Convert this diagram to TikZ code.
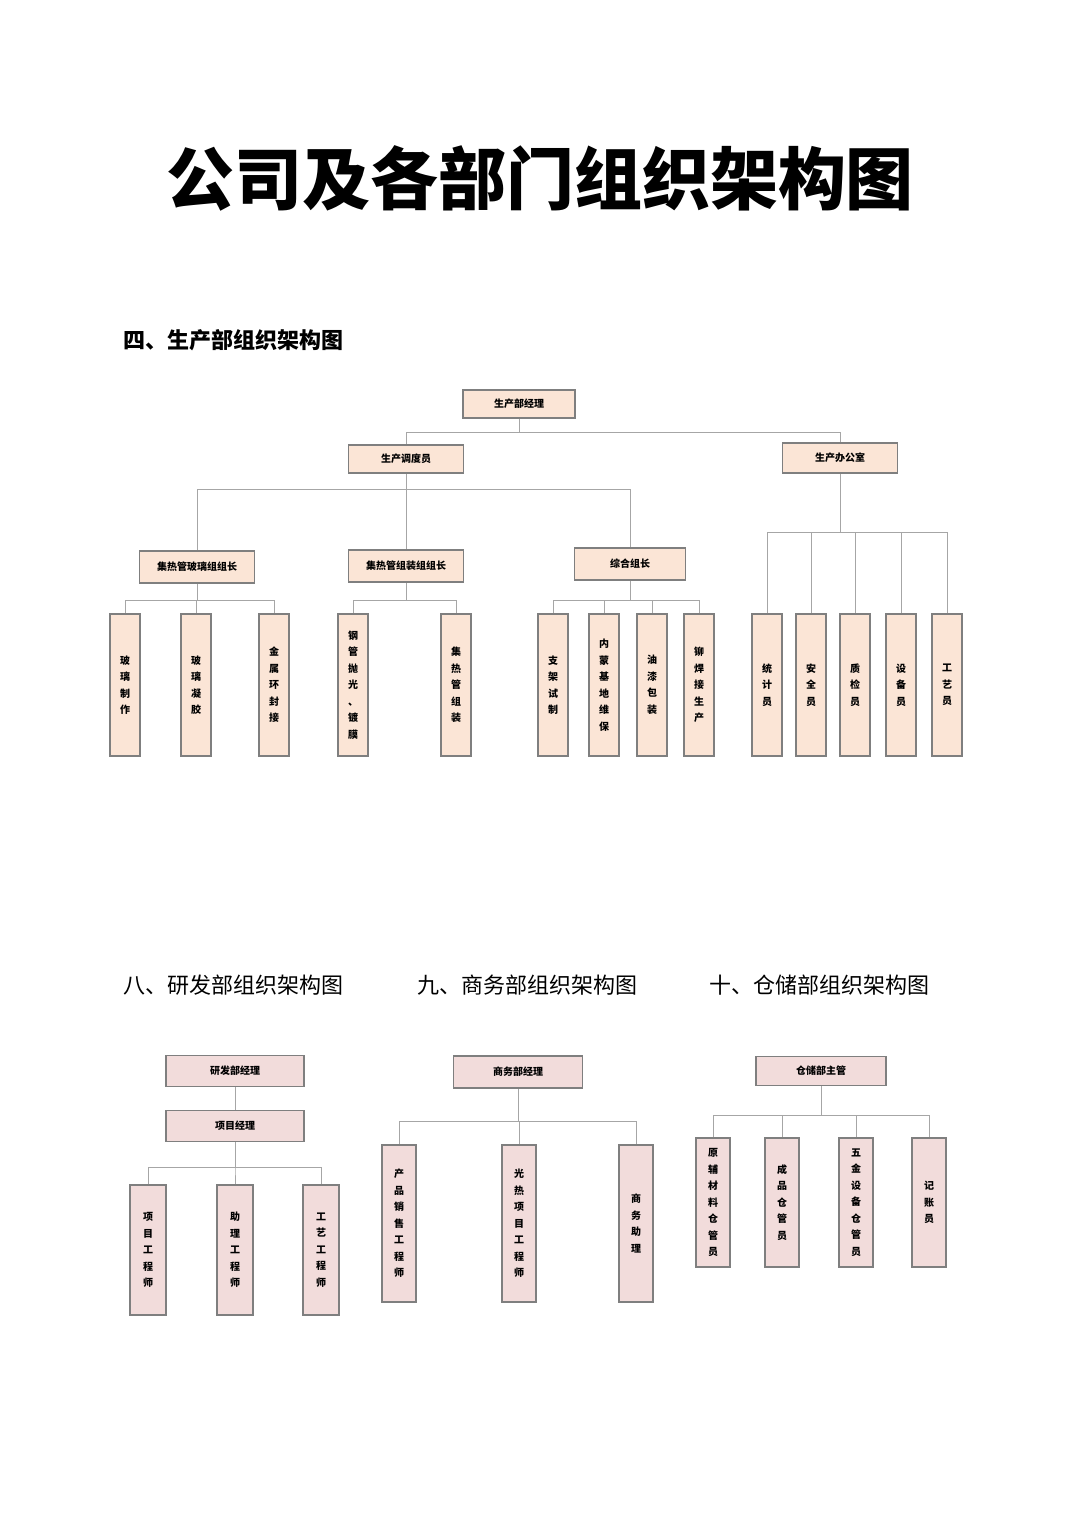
\documentclass[tikz,border=0pt]{standalone}
\usepackage{fontspec}
\setmainfont{Noto Sans CJK SC}
\newfontfamily\cjk{Noto Sans CJK SC}
\definecolor{peach}{HTML}{FBE5D6}
\definecolor{pinkb}{HTML}{F2DCDB}
\definecolor{edge}{HTML}{7F7F7F}
\definecolor{wire}{HTML}{A6A6A6}
\begin{document}
\begin{tikzpicture}[x=1pt,y=-1pt,
  box/.style={draw=edge,line width=1.6pt,inner sep=0pt,align=center,font=\cjk\bfseries\fontsize{10}{12}\selectfont},
  topbox/.style={box,fill=peach,minimum width=113pt,minimum height=29pt},
  leaf/.style={box,fill=peach,minimum width=30pt,minimum height=142pt,font=\cjk\bfseries\fontsize{10}{16.5}\selectfont},
  pbox/.style={box,fill=pinkb,minimum height=30pt},
  pleaf/.style={box,fill=pinkb,minimum width=34pt,font=\cjk\bfseries\fontsize{10}{16.5}\selectfont},
  wr/.style={draw=wire,line width=1pt}]
\useasboundingbox (0,0) rectangle (1080,1527);
\node[font=\cjk\bfseries\fontsize{68}{70}\selectfont] (title) at (540,178) {公司及各部门组织架构图};
\node[anchor=west,font=\cjk\bfseries\fontsize{22}{24}\selectfont] (h4) at (120,340) {四、生产部组织架构图};
\node[anchor=west,font=\cjk\fontsize{22}{24}\selectfont] (h8) at (120,985) {八、研发部组织架构图};
\node[anchor=west,font=\cjk\fontsize{22}{24}\selectfont] (h9) at (414,985) {九、商务部组织架构图};
\node[anchor=west,font=\cjk\fontsize{22}{24}\selectfont] (h10) at (706,985) {十、仓储部组织架构图};

% top chart
\node[topbox,minimum width=112pt,minimum height=28pt] (pm) at (519,404) {生产部经理};
\node[topbox,minimum width=115pt,minimum height=28pt] (dd) at (406,459) {生产调度员};
\node[topbox,minimum width=115pt,minimum height=30pt] (of) at (840,458) {生产办公室};
\node[topbox,minimum width=115pt,minimum height=32pt] (g1) at (197,567) {集热管玻璃组组长};
\node[topbox,minimum width=115pt,minimum height=32pt] (g2) at (406,566) {集热管组装组组长};
\node[topbox,minimum width=111pt,minimum height=32pt] (g3) at (630,564) {综合组长};
\foreach \n/\x/\t in {a1/125/玻\\璃\\制\\作, a2/196/玻\\璃\\凝\\胶, a3/274/金\\属\\环\\封\\接,
  b1/353/钢\\管\\抛\\光\\、\\镀\\膜, b2/456/集\\热\\管\\组\\装,
  c1/553/支\\架\\试\\制, c2/604/内\\蒙\\基\\地\\维\\保, c3/652/油\\漆\\包\\装, c4/699/铆\\焊\\接\\生\\产,
  d1/767/统\\计\\员, d2/811/安\\全\\员, d3/855/质\\检\\员, d4/901/设\\备\\员, d5/947/工\\艺\\员}
  \node[leaf] (\n) at (\x,685) {\t};
\draw[wr] (pm.south) -- ++(0,14) -| (dd.north);
\draw[wr] (pm.south) ++(0,14) -| (of.north);
\draw[wr] (dd.south) |- (g1.north |- 0,489) -- (g1.north);
\draw[wr] (dd.south) -- (g2.north);
\draw[wr] (dd.south) |- (g3.north |- 0,489) -- (g3.north);
\foreach \g/\l in {g1/a1,g1/a2,g1/a3,g2/b1,g2/b2,g3/c1,g3/c2,g3/c3,g3/c4}
  \draw[wr] (\g.south) |- (\l.north |- 0,600) -- (\l.north);
\foreach \l in {d1,d2,d3,d4,d5}
  \draw[wr] (of.south) |- (\l.north |- 0,532) -- (\l.north);

% R&D
\node[pbox,minimum width=138pt,minimum height=31pt] (rd) at (235,1071) {研发部经理};
\node[pbox,minimum width=138pt,minimum height=31pt] (pj) at (235,1126) {项目经理};
\foreach \n/\x/\t in {r1/148/项\\目\\工\\程\\师, r2/235/助\\理\\工\\程\\师, r3/321/工\\艺\\工\\程\\师}
  \node[pleaf,minimum width=36pt,minimum height=130pt] (\n) at (\x,1250) {\t};
\draw[wr] (rd.south) -- (pj.north);
\foreach \l in {r1,r2,r3} \draw[wr] (pj.south) |- (\l.north |- 0,1167) -- (\l.north);

% business
\node[pbox,minimum width=129pt,minimum height=32pt] (bm) at (518,1072) {商务部经理};
\foreach \n/\x/\t in {s1/399/产\\品\\销\\售\\工\\程\\师, s2/519/光\\热\\项\\目\\工\\程\\师, s3/636/商\\务\\助\\理}
  \node[pleaf,minimum height=157pt] (\n) at (\x,1223.5) {\t};
\foreach \l in {s1,s2,s3} \draw[wr] (bm.south) |- (\l.north |- 0,1121) -- (\l.north);

% storage
\node[pbox,minimum width=130pt,minimum height=29pt] (wm) at (821,1071) {仓储部主管};
\foreach \n/\x/\t in {w1/713/原\\辅\\材\\料\\仓\\管\\员, w2/782/成\\品\\仓\\管\\员, w3/856/五\\金\\设\\备\\仓\\管\\员, w4/929/记\\账\\员}
  \node[pleaf,minimum height=129pt] (\n) at (\x,1202.5) {\t};
\foreach \l in {w1,w2,w3,w4} \draw[wr] (wm.south) |- (\l.north |- 0,1115) -- (\l.north);
\end{tikzpicture}
\end{document}
